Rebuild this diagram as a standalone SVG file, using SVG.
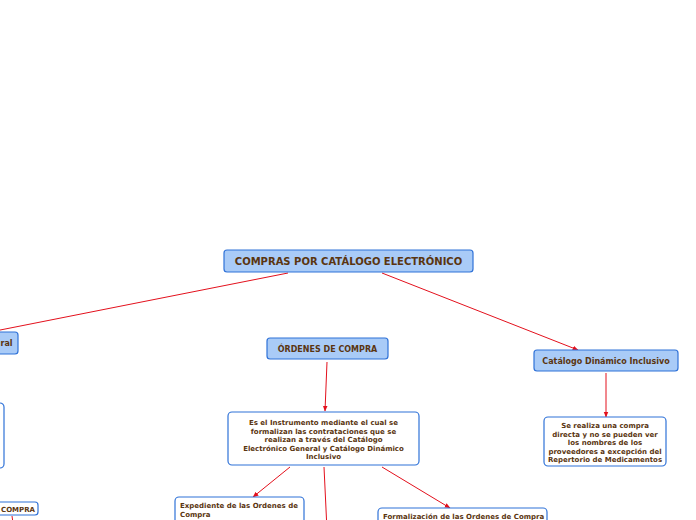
<svg xmlns="http://www.w3.org/2000/svg" width="696" height="520" viewBox="0 0 696 520">
<defs>
<marker id="arr" viewBox="0 0 10 10" refX="9" refY="5" markerWidth="6" markerHeight="6" orient="auto" markerUnits="userSpaceOnUse">
<path d="M0,1 L10,5 L0,9 z" fill="#e3101c"/>
</marker>
<style>
.main{fill:#a9cbf7;stroke:#2f72d8;stroke-width:1.2}
.sub{fill:#ffffff;stroke:#2f72d8;stroke-width:1.2}
text{font-family:"DejaVu Sans",Verdana,sans-serif;font-weight:bold;fill:#5a3510}
.c{text-anchor:middle}
.t10{font-size:10px}
.t8{font-size:8px}
.t7{font-size:7px}
.con line{stroke:#e3101c;stroke-width:1}
</style>
</defs>
<rect width="696" height="520" fill="#ffffff"/>
<g class="con">
<line x1="288" y1="273" x2="-20" y2="334" marker-end="url(#arr)"/>
<line x1="382" y1="273" x2="578" y2="350" marker-end="url(#arr)"/>
<line x1="327" y1="362" x2="325" y2="411" marker-end="url(#arr)"/>
<line x1="290" y1="467" x2="253" y2="497" marker-end="url(#arr)"/>
<line x1="324" y1="467" x2="327" y2="530"/>
<line x1="382" y1="467" x2="450" y2="508" marker-end="url(#arr)"/>
<line x1="606" y1="373" x2="606" y2="417" marker-end="url(#arr)"/>
<line x1="12" y1="516" x2="14" y2="530"/>
</g>
<g id="root">
<rect class="main" x="224" y="250" width="249" height="22" rx="3"/>
<text class="c t10" x="348.5" y="265">COMPRAS POR CATÁLOGO ELECTRÓNICO</text>
</g>
<g id="general">
<rect class="main" x="-160" y="332" width="178" height="22" rx="3"/>
<text class="t8" x="0.5" y="346">ral</text>
</g>
<g id="ordenes">
<rect class="main" x="267" y="338" width="121" height="21" rx="3"/>
<text class="c t8" x="327.5" y="352">ÓRDENES DE COMPRA</text>
</g>
<g id="dinamico">
<rect class="main" x="534" y="350" width="144" height="21" rx="3"/>
<text class="c t8" x="606" y="364">Catálogo Dinámico Inclusivo</text>
</g>
<g id="desc">
<rect class="sub" x="228" y="412" width="191" height="53" rx="4"/>
<text class="c t7" x="323.5" y="425">Es el Instrumento mediante el cual se</text>
<text class="c t7" x="323.5" y="433.5">formalizan las contrataciones que se</text>
<text class="c t7" x="323.5" y="442">realizan a través del Catálogo</text>
<text class="c t7" x="323.5" y="450.5">Electrónico General y Catálogo Dinámico</text>
<text class="c t7" x="323.5" y="459">Inclusivo</text>
</g>
<g id="dinamicodesc">
<rect class="sub" x="544" y="417" width="122" height="49" rx="4"/>
<text class="c t7" x="605" y="428">Se realiza una compra</text>
<text class="c t7" x="605" y="436.5">directa y no se pueden ver</text>
<text class="c t7" x="605" y="445">los nombres de los</text>
<text class="c t7" x="605" y="453.5">proveedores a excepción del</text>
<text class="c t7" x="605" y="462">Repertorio de Medicamentos</text>
</g>
<g id="leftdesc">
<rect class="sub" x="-150" y="403" width="154" height="65" rx="4"/>
</g>
<g id="leftcompra">
<rect class="sub" x="-80" y="502" width="118" height="13" rx="3"/>
<text class="t7" x="35" y="511.5" text-anchor="end">COMPRA</text>
</g>
<g id="expediente">
<rect class="sub" x="175" y="497" width="129" height="30" rx="4"/>
<text class="t7" x="180" y="508">Expediente de las Ordenes de</text>
<text class="t7" x="180" y="517">Compra</text>
</g>
<g id="formalizacion">
<rect class="sub" x="378" y="508" width="169" height="20" rx="4"/>
<text class="t7" x="383" y="518.5">Formalización de las Ordenes de Compra</text>
</g>
</svg>
